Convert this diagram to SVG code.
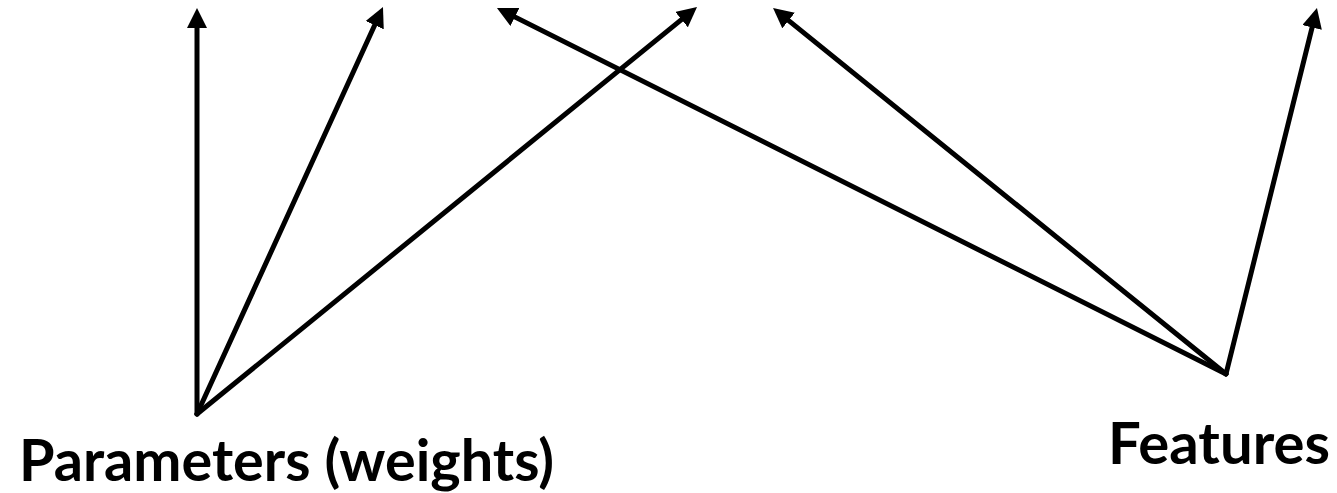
<svg xmlns="http://www.w3.org/2000/svg" width="1337" height="493" viewBox="0 0 1337 493">
  <style>
    .edge { stroke: #000; stroke-width: 5; fill: none; stroke-linecap: round; marker-end: url(#head); }
    .label { font-family: Lato, "Open Sans", "Liberation Sans", sans-serif; font-weight: bold; font-size: 57px; fill: #000; }
  </style>
  <defs>
    <marker id="head" markerUnits="userSpaceOnUse" markerWidth="20" markerHeight="20" refX="9" refY="10" orient="auto">
      <path d="M0,0 L20,10 L0,20 Z" fill="#000"/>
    </marker>
  </defs>
  <rect width="1337" height="493" fill="#fff"/>

  <g id="connectors">
    <!-- from parameters -->
    <path class="edge" d="M197,414 L197,19"/>
    <path class="edge" d="M197,414 L378.4,17"/>
    <path class="edge" d="M197,414 L688.5,13.9"/>
    <!-- from features -->
    <path class="edge" d="M1226,374 L506.8,12.9"/>
    <path class="edge" d="M1226,374 L781.6,14.9"/>
    <path class="edge" d="M1226,374 L1314.3,18.7"/>
  </g>

  <g id="parameters">
    <text class="label" x="19" y="481" textLength="535" lengthAdjust="spacingAndGlyphs">Parameters (weights)</text>
  </g>
  <g id="features">
    <text class="label" x="1108" y="464" textLength="222" lengthAdjust="spacingAndGlyphs">Features</text>
  </g>
</svg>
